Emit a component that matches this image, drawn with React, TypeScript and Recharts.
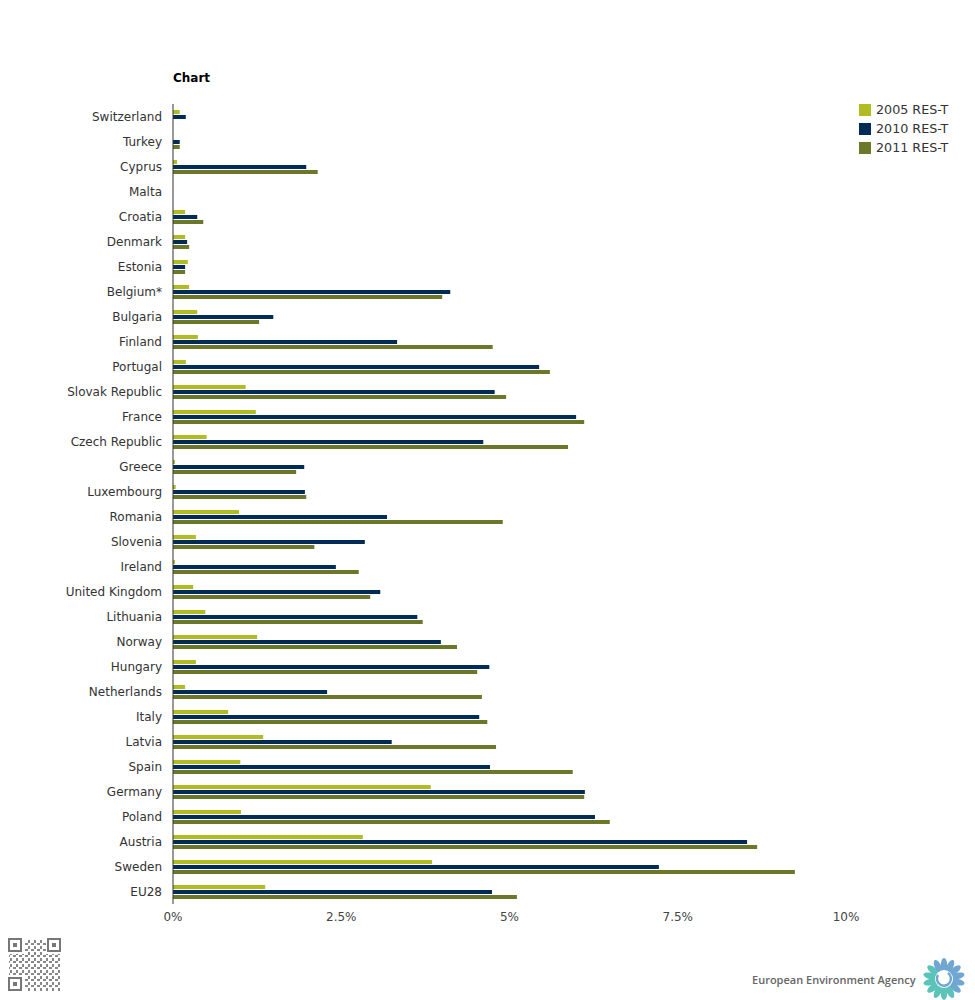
import { BarChart, Bar, XAxis, YAxis } from 'recharts';

const countries = [
  'Switzerland', 'Turkey', 'Cyprus', 'Malta', 'Croatia', 'Denmark', 'Estonia', 'Belgium*',
  'Bulgaria', 'Finland', 'Portugal', 'Slovak Republic', 'France', 'Czech Republic', 'Greece',
  'Luxembourg', 'Romania', 'Slovenia', 'Ireland', 'United Kingdom', 'Lithuania', 'Norway',
  'Hungary', 'Netherlands', 'Italy', 'Latvia', 'Spain', 'Germany', 'Poland', 'Austria',
  'Sweden', 'EU28',
];

const res2005 = [
  0.1, 0, 0.06, 0, 0.18, 0.18, 0.22, 0.24, 0.36, 0.37, 0.19, 1.08, 1.23, 0.5, 0.03, 0.04,
  0.98, 0.34, 0.03, 0.3, 0.48, 1.25, 0.34, 0.18, 0.82, 1.34, 1.0, 3.83, 1.01, 2.82, 3.85, 1.37,
];
const res2010 = [
  0.19, 0.1, 1.98, 0, 0.36, 0.21, 0.18, 4.12, 1.49, 3.33, 5.44, 4.78, 5.99, 4.61, 1.95, 1.96,
  3.18, 2.85, 2.42, 3.08, 3.63, 3.98, 4.7, 2.29, 4.55, 3.25, 4.71, 6.12, 6.27, 8.53, 7.22, 4.74,
];
const res2011 = [
  0, 0.1, 2.15, 0, 0.45, 0.24, 0.18, 4.0, 1.28, 4.75, 5.6, 4.95, 6.11, 5.87, 1.83, 1.98,
  4.9, 2.1, 2.76, 2.93, 3.71, 4.22, 4.52, 4.59, 4.67, 4.8, 5.94, 6.11, 6.49, 8.68, 9.24, 5.11,
];
const xTicks = [0, 2.5, 5, 7.5, 10];

const series = [
  { key: 'r2005', name: '2005 RES-T', color: '#B0BC21' },
  { key: 'r2010', name: '2010 RES-T', color: '#002B54' },
  { key: 'r2011', name: '2011 RES-T', color: '#6B7729' },
];

const data = countries.map((c, i) => ({
  country: c,
  r2005: res2005[i],
  r2010: res2010[i],
  r2011: res2011[i],
}));

const FONT = '"DejaVu Sans", Verdana, sans-serif';

function LegendBox() {
  return (
    <div
      style={{
        position: 'absolute', left: 859, top: 100, fontFamily: FONT, fontSize: 12.7, color: '#333',
      }}
    >
      {series.map((s) => (
        <div key={s.key} style={{ display: 'flex', alignItems: 'center', height: 19 }}>
          <span style={{ width: 12, height: 12, background: s.color, marginRight: 5 }} />
          <span>{s.name}</span>
        </div>
      ))}
    </div>
  );
}

function Petals() {
  const n = 14;
  const items = [];
  for (let i = 0; i < n; i++) {
    const a = (360 / n) * i;
    const teal = a > 150 && a < 330;
    items.push(
      <ellipse
        key={i}
        cx={0}
        cy={-14}
        rx={3.2}
        ry={7}
        fill={teal ? '#5BC3B8' : '#6FA6D2'}
        transform={`rotate(${a})`}
      />
    );
  }
  return (
    <svg width={50} height={50} style={{ position: 'absolute', left: 919, top: 954 }}>
      <g transform="translate(25,25)">
        {items}
        <circle r={9} fill="#fff" />
        <path d="M -6 -4 A 7 7 0 1 0 4 -6" stroke="#6FA6D2" strokeWidth={2.5} fill="none" />
      </g>
    </svg>
  );
}

function QrMark() {
  const finder = (x: number, y: number) => (
    <g key={`${x}-${y}`}>
      <rect x={x} y={y} width={12} height={12} fill="none" stroke="#777" strokeWidth={2} />
      <rect x={x + 4} y={y + 4} width={4} height={4} fill="#777" />
    </g>
  );
  return (
    <svg width={56} height={56} style={{ position: 'absolute', left: 7, top: 937 }}>
      <defs>
        <pattern id="qr" width={6} height={6} patternUnits="userSpaceOnUse">
          <rect x={0} y={0} width={3} height={2} fill="#888" />
          <rect x={3} y={3} width={2} height={3} fill="#888" />
        </pattern>
      </defs>
      <rect x={2} y={2} width={52} height={52} fill="url(#qr)" />
      <rect x={1} y={1} width={16} height={16} fill="#fff" />
      <rect x={39} y={1} width={16} height={16} fill="#fff" />
      <rect x={1} y={39} width={16} height={16} fill="#fff" />
      {finder(2, 2)}
      {finder(41, 2)}
      {finder(2, 41)}
    </svg>
  );
}

export default function App() {
  return (
    <div style={{ position: 'absolute', left: 0, top: 0, width: 975, height: 1000, background: '#fff' }}>
      <div
        style={{
          position: 'absolute', left: 173, top: 71, fontFamily: FONT,
          fontSize: 12, fontWeight: 'bold', color: '#000',
        }}
      >
        Chart
      </div>
      <BarChart
        width={975}
        height={1000}
        data={data}
        layout="vertical"
        margin={{ top: 104, right: 129, bottom: 66, left: 0 }}
        barSize={4}
        barGap={1}
      >
        <XAxis
          type="number"
          domain={[0, 10]}
          ticks={xTicks}
          tickFormatter={(v: number) => `${v}%`}
          axisLine={false}
          tickLine={false}
          tick={{ fontSize: 12, fill: '#444', fontFamily: FONT }}
          height={30}
        />
        <YAxis
          type="category"
          dataKey="country"
          width={173}
          axisLine={{ stroke: '#333' }}
          tickLine={false}
          tickMargin={5}
          interval={0}
          tick={{ fontSize: 12, fill: '#333', fontFamily: FONT }}
        />
        {series.map((s) => (
          <Bar key={s.key} dataKey={s.key} name={s.name} fill={s.color} isAnimationActive={false} />
        ))}
      </BarChart>
      <LegendBox />
      <QrMark />
      <div
        style={{
          position: 'absolute', left: 752, top: 972, fontFamily: '"Open Sans", sans-serif',
          fontSize: 11, fontWeight: 600, color: '#666',
        }}
      >
        European Environment Agency
      </div>
      <Petals />
    </div>
  );
}
